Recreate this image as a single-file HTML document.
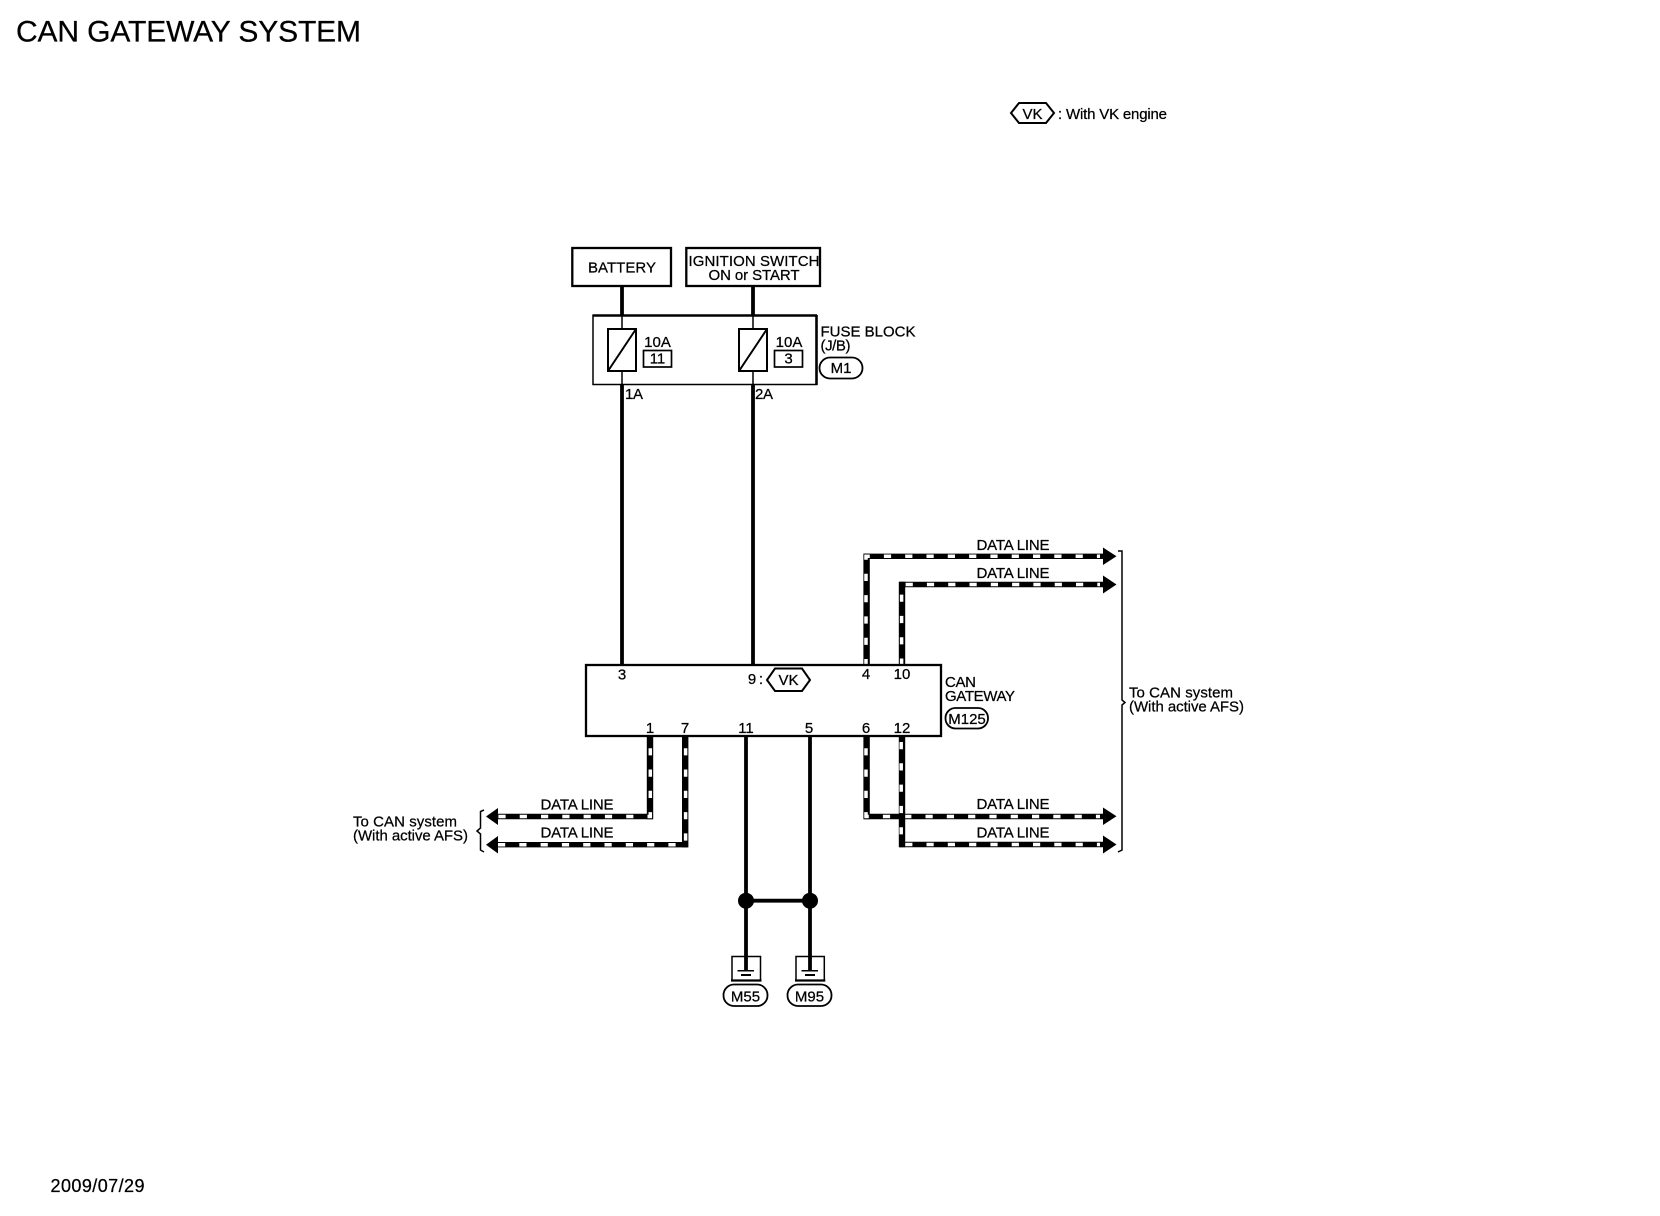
<!DOCTYPE html>
<html><head><meta charset="utf-8"><title>CAN GATEWAY SYSTEM</title>
<style>
html,body{margin:0;padding:0;background:#fff;width:1660px;height:1216px;overflow:hidden}
svg{display:block}
text{font-family:"Liberation Sans",Arial,sans-serif;font-size:15px;fill:#000;stroke:#000;stroke-width:.25}
.m{text-anchor:middle}
.w{fill:none;stroke:#000;stroke-width:3.8}
.b{fill:#fff;stroke:#000;stroke-width:2.3}
.t{fill:none;stroke:#000;stroke-width:1.5}
.db{fill:none;stroke:#000;stroke-width:5.4;stroke-linejoin:miter}
.dv{stroke:#000;stroke-width:6.4}
.dw{fill:none;stroke:#fff;stroke-width:3.5;stroke-dasharray:7.2 14.1;stroke-linejoin:miter}
</style></head><body>
<svg width="1660" height="1216" viewBox="0 0 1660 1216" xmlns="http://www.w3.org/2000/svg">
<text x="16" y="41.5" style="font-size:30px" textLength="345">CAN GATEWAY SYSTEM</text>

<polygon fill="none" stroke="#000" stroke-width="2" points="1019,103 1046,103 1054,113 1046,123 1019,123 1011,113"/>
<text x="1032.5" y="119" class="m">VK</text>
<text x="1058" y="119" textLength="109">: With VK engine</text>

<line class="w" x1="622" y1="286" x2="622" y2="315"/>
<line class="w" x1="753" y1="286" x2="753" y2="315"/>
<rect class="b" x="572.3" y="248" width="98.7" height="38"/>
<rect class="b" x="686.3" y="248" width="133.7" height="38"/>
<text x="622" y="272.7" class="m" textLength="68">BATTERY</text>
<text x="754" y="266" class="m" textLength="131">IGNITION SWITCH</text>
<text x="754" y="280" class="m" textLength="91">ON or START</text>

<rect x="593" y="315.5" width="223.5" height="69" fill="#fff" stroke="#000" stroke-width="1.5"/>
<line x1="592.5" y1="315.5" x2="817" y2="315.5" stroke="#000" stroke-width="2.4"/>
<line x1="816.5" y1="315" x2="816.5" y2="385" stroke="#000" stroke-width="2.6"/>
<line class="t" x1="622" y1="315" x2="622" y2="328"/>
<line class="t" x1="753" y1="315" x2="753" y2="328"/>
<line class="t" x1="622" y1="371" x2="622" y2="385"/>
<line class="t" x1="753" y1="371" x2="753" y2="385"/>
<rect x="608" y="329" width="28" height="42" fill="#fff" stroke="#000" stroke-width="2"/>
<line x1="608" y1="371" x2="636" y2="329" stroke="#000" stroke-width="2"/>
<rect x="739" y="329" width="28" height="42" fill="#fff" stroke="#000" stroke-width="2"/>
<line x1="739" y1="371" x2="767" y2="329" stroke="#000" stroke-width="2"/>
<text x="657.5" y="347" class="m">10A</text>
<text x="789" y="347" class="m">10A</text>
<rect x="643.5" y="350.5" width="28" height="16.5" fill="#fff" stroke="#000" stroke-width="1.7"/>
<rect x="774.5" y="350.5" width="28" height="16.5" fill="#fff" stroke="#000" stroke-width="1.7"/>
<text x="657.5" y="363.5" class="m">11</text>
<text x="788.5" y="363.5" class="m">3</text>
<text x="820.5" y="336.5" textLength="95">FUSE BLOCK</text>
<text x="820.5" y="350.5" textLength="30">(J/B)</text>
<rect x="823" y="357.5" width="43" height="21" rx="10.5" fill="none" stroke="#000" stroke-width="1.8" transform="translate(-3.5 0)"/>
<text x="841" y="373" class="m">M1</text>
<text x="625" y="399" textLength="18">1A</text>
<text x="755" y="399" textLength="18">2A</text>

<line class="w" x1="622" y1="384" x2="622" y2="666"/>
<line class="w" x1="753" y1="384" x2="753" y2="666"/>

<!-- data lines top -->
<path class="db" d="M866.5 666 V556.3 H1104"/><line class="dv" x1="866.6" y1="666" x2="866.6" y2="553.6"/>
<path class="dw" d="M866 666.2 V556.3 H1100"/>
<path class="db" d="M902 666 V584.5 H1104"/><line class="dv" x1="902" y1="666" x2="902" y2="581.8"/>
<path class="dw" d="M901.6 665.7 V584.5 H1100"/>
<polygon points="1103,547.5 1116.5,556.3 1103,565"/>
<polygon points="1103,575.5 1116.5,584.5 1103,593.5"/>

<!-- data lines bottom right -->
<path class="db" d="M866.5 736 V816.5 H1104"/><line class="dv" x1="866.6" y1="736" x2="866.6" y2="819.2"/>
<path class="dw" d="M866 726.9 V816.5 H1100"/>
<polygon points="1103,807.5 1116.5,816.3 1103,825"/>
<path class="db" d="M902 736 V844.5 H1104"/><line class="dv" x1="902" y1="736" x2="902" y2="847.2"/>
<path class="dw" d="M901.2 720.7 V844.5 H1100"/>
<polygon points="1103,835.5 1116.5,844.5 1103,853.5"/>

<!-- data lines left -->
<path class="db" d="M650 736 V816.5 H494"/><line class="dv" x1="650" y1="736" x2="650" y2="819.2"/>
<path class="dw" d="M650.3 726.9 V816.5 H496"/>
<polygon points="498,808 486,816.5 498,825"/>
<path class="db" d="M685 736 V844.7 H494"/><line class="dv" x1="685.2" y1="736" x2="685.2" y2="847.4"/>
<path class="dw" d="M685.6 726.9 V844.7 H496"/>
<polygon points="498,836 486,844.7 498,853.5"/>

<!-- gateway -->
<rect class="b" x="586" y="665" width="355" height="71"/>
<text x="752" y="684" class="m">9</text>
<text x="761" y="684" class="m">:</text>
<text x="622" y="679.5" class="m">3</text>
<polygon points="775,668.5 802,668.5 810,680 802,691 775,691 767,680" fill="#fff" stroke="#000" stroke-width="2"/>
<text x="788.5" y="685" class="m">VK</text>
<text x="866" y="679" class="m">4</text>
<text x="902" y="679" class="m">10</text>
<text x="650" y="733" class="m">1</text>
<text x="685" y="733" class="m">7</text>
<text x="746" y="733" class="m">11</text>
<text x="809" y="733" class="m">5</text>
<text x="866" y="733" class="m">6</text>
<text x="902" y="733" class="m">12</text>
<text x="945" y="687" textLength="31">CAN</text>
<text x="945" y="701" textLength="70">GATEWAY</text>
<rect x="945.5" y="708" width="42.5" height="20.5" rx="10" fill="none" stroke="#000" stroke-width="1.8"/>
<text x="967" y="724" class="m">M125</text>

<text x="1013" y="550.2" class="m" textLength="73">DATA LINE</text>
<text x="1013" y="578.2" class="m" textLength="73">DATA LINE</text>
<text x="1013" y="809.2" class="m" textLength="73">DATA LINE</text>
<text x="1013" y="837.5" class="m" textLength="73">DATA LINE</text>
<text x="577" y="809.7" class="m" textLength="73">DATA LINE</text>
<text x="577" y="837.5" class="m" textLength="73">DATA LINE</text>

<!-- brackets -->
<path class="t" d="M1118 551 L1122 551 V700 L1125 702.5 L1122 705 V850 L1118 852"/>
<path class="t" d="M484 810 L480.5 811.5 V828 L477 831 L480.5 834 V850 L484 852"/>
<text x="1129" y="697.7" textLength="104">To CAN system</text>
<text x="1129" y="711.7" textLength="115">(With active AFS)</text>
<text x="353" y="826.7" textLength="104">To CAN system</text>
<text x="353" y="840.7" textLength="115">(With active AFS)</text>

<!-- grounds -->
<line class="w" x1="746" y1="736" x2="746" y2="970"/>
<line class="w" x1="810" y1="736" x2="810" y2="970"/>
<line class="w" x1="746" y1="900.7" x2="810" y2="900.7"/>
<circle cx="746" cy="900.7" r="8"/>
<circle cx="810" cy="900.7" r="8"/>
<path class="t" d="M732 980 V956.5 H760.5 V980"/>
<line x1="731" y1="980.5" x2="761.5" y2="980.5" stroke="#000" stroke-width="2.2"/>
<path class="t" d="M796 980 V956.5 H824.3 V980"/>
<line x1="795" y1="980.5" x2="825.3" y2="980.5" stroke="#000" stroke-width="2.2"/>
<line x1="737.5" y1="970.7" x2="754" y2="970.7" stroke="#000" stroke-width="1.5"/>
<line x1="801.5" y1="970.7" x2="818" y2="970.7" stroke="#000" stroke-width="1.5"/>
<line x1="741" y1="975" x2="751" y2="975" stroke="#000" stroke-width="2"/>
<line x1="805" y1="975" x2="815" y2="975" stroke="#000" stroke-width="2"/>
<rect x="723.5" y="984.5" width="44" height="21.5" rx="10.5" fill="none" stroke="#000" stroke-width="1.8"/>
<rect x="787.5" y="984.5" width="44" height="21.5" rx="10.5" fill="none" stroke="#000" stroke-width="1.8"/>
<text x="745.5" y="1001.5" class="m">M55</text>
<text x="809.5" y="1001.5" class="m">M95</text>

<text x="50.5" y="1192" style="font-size:18px" textLength="94">2009/07/29</text>
</svg>
</body></html>
